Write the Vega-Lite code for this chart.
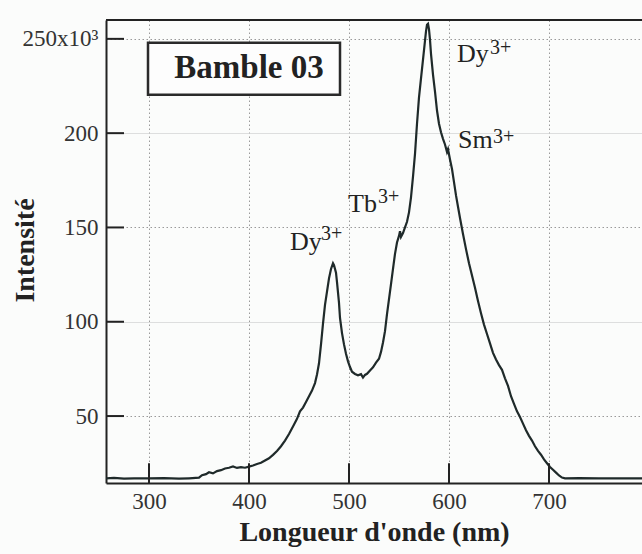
{
  "$schema": "https://vega.github.io/schema/vega-lite/v6.json",
  "width": 536,
  "height": 463,
  "autosize": {"type": "none"},
  "padding": {"left": 106, "top": 20, "right": 0, "bottom": 71},
  "background": "#fbfcfb",
  "config": {
    "view": {"stroke": null},
    "font": "Liberation Serif"
  },
  "layer": [
    {
      "data": {
        "values": [
          {"nm": 257, "v": 17}, {"nm": 265, "v": 17.2}, {"nm": 275, "v": 16.8}, {"nm": 285, "v": 17}, {"nm": 300, "v": 17},
          {"nm": 315, "v": 17.1}, {"nm": 330, "v": 16.8}, {"nm": 340, "v": 17}, {"nm": 350, "v": 17.3}, {"nm": 353, "v": 18.6},
          {"nm": 357, "v": 19.2}, {"nm": 360, "v": 20.2}, {"nm": 364, "v": 19.6}, {"nm": 368, "v": 20.8}, {"nm": 372, "v": 21.3},
          {"nm": 376, "v": 22.2}, {"nm": 380, "v": 22.6}, {"nm": 384, "v": 23.3}, {"nm": 388, "v": 22.5}, {"nm": 392, "v": 22.9},
          {"nm": 396, "v": 22.6}, {"nm": 400, "v": 23.2}, {"nm": 404, "v": 23.8}, {"nm": 408, "v": 24.6}, {"nm": 412, "v": 25.2},
          {"nm": 416, "v": 26.4}, {"nm": 420, "v": 27.6}, {"nm": 424, "v": 29.4}, {"nm": 428, "v": 31.5}, {"nm": 432, "v": 34},
          {"nm": 436, "v": 37}, {"nm": 440, "v": 40.5}, {"nm": 444, "v": 44.5}, {"nm": 448, "v": 48.5}, {"nm": 451, "v": 52.5},
          {"nm": 454, "v": 54.5}, {"nm": 457, "v": 57.5}, {"nm": 460, "v": 60.5}, {"nm": 463, "v": 63.5}, {"nm": 466, "v": 67.5},
          {"nm": 468, "v": 72}, {"nm": 470, "v": 78}, {"nm": 472, "v": 88}, {"nm": 474, "v": 99}, {"nm": 476, "v": 109},
          {"nm": 478, "v": 116}, {"nm": 480, "v": 123}, {"nm": 482, "v": 128}, {"nm": 484, "v": 131}, {"nm": 485, "v": 130},
          {"nm": 487, "v": 126}, {"nm": 488, "v": 121}, {"nm": 490, "v": 110}, {"nm": 491, "v": 102}, {"nm": 493, "v": 94},
          {"nm": 495, "v": 88}, {"nm": 497, "v": 83}, {"nm": 499, "v": 79}, {"nm": 501, "v": 76}, {"nm": 503, "v": 73.5},
          {"nm": 506, "v": 72.3}, {"nm": 509, "v": 71.6}, {"nm": 512, "v": 72.2}, {"nm": 514, "v": 70.4}, {"nm": 516, "v": 71.8},
          {"nm": 518, "v": 72.4}, {"nm": 521, "v": 74.2}, {"nm": 524, "v": 75.8}, {"nm": 527, "v": 78.3}, {"nm": 530, "v": 80.4},
          {"nm": 532, "v": 84}, {"nm": 534, "v": 89}, {"nm": 536, "v": 95}, {"nm": 538, "v": 104}, {"nm": 540, "v": 112},
          {"nm": 542, "v": 120}, {"nm": 544, "v": 128}, {"nm": 546, "v": 136}, {"nm": 548, "v": 142}, {"nm": 550, "v": 145.5},
          {"nm": 551, "v": 148}, {"nm": 552, "v": 145}, {"nm": 554, "v": 147}, {"nm": 556, "v": 150}, {"nm": 558, "v": 153},
          {"nm": 560, "v": 158}, {"nm": 562, "v": 166}, {"nm": 564, "v": 177}, {"nm": 566, "v": 189}, {"nm": 568, "v": 205},
          {"nm": 570, "v": 219}, {"nm": 572, "v": 229}, {"nm": 574, "v": 239}, {"nm": 576, "v": 249}, {"nm": 577, "v": 254},
          {"nm": 578, "v": 257.5}, {"nm": 579, "v": 258}, {"nm": 580, "v": 255}, {"nm": 581, "v": 249.5}, {"nm": 582, "v": 242},
          {"nm": 584, "v": 231}, {"nm": 586, "v": 222}, {"nm": 588, "v": 212}, {"nm": 590, "v": 205}, {"nm": 592, "v": 200.5},
          {"nm": 594, "v": 197}, {"nm": 596, "v": 194}, {"nm": 598, "v": 190}, {"nm": 599, "v": 191.5}, {"nm": 601, "v": 186},
          {"nm": 603, "v": 181}, {"nm": 605, "v": 174}, {"nm": 607, "v": 167}, {"nm": 609, "v": 161}, {"nm": 611, "v": 155},
          {"nm": 614, "v": 146.5}, {"nm": 617, "v": 138.5}, {"nm": 620, "v": 131}, {"nm": 623, "v": 124.5}, {"nm": 626, "v": 118},
          {"nm": 629, "v": 111}, {"nm": 632, "v": 104.5}, {"nm": 635, "v": 98.5}, {"nm": 638, "v": 93.5}, {"nm": 641, "v": 88.5},
          {"nm": 644, "v": 83.5}, {"nm": 647, "v": 80}, {"nm": 650, "v": 77}, {"nm": 653, "v": 74.5}, {"nm": 656, "v": 70},
          {"nm": 659, "v": 66}, {"nm": 662, "v": 60.5}, {"nm": 665, "v": 56.5}, {"nm": 668, "v": 52.5}, {"nm": 671, "v": 49.5},
          {"nm": 674, "v": 46}, {"nm": 677, "v": 42.5}, {"nm": 680, "v": 39.5}, {"nm": 683, "v": 37}, {"nm": 686, "v": 34},
          {"nm": 689, "v": 31.5}, {"nm": 692, "v": 29.5}, {"nm": 695, "v": 27}, {"nm": 698, "v": 25}, {"nm": 701, "v": 23},
          {"nm": 704, "v": 21.5}, {"nm": 707, "v": 20}, {"nm": 710, "v": 18.5}, {"nm": 713, "v": 17.4}, {"nm": 716, "v": 17},
          {"nm": 730, "v": 17.1}, {"nm": 750, "v": 17}, {"nm": 770, "v": 17}, {"nm": 793, "v": 17}
        ]
      },
      "mark": {"type": "line", "color": "#1f2a2a", "strokeWidth": 2.2, "clip": true},
      "encoding": {
        "x": {
          "field": "nm", "type": "quantitative",
          "scale": {"domain": [257, 793], "nice": false, "zero": false},
          "axis": {
            "orient": "bottom", "title": "Longueur d'onde (nm)", "values": [300, 400, 500, 600, 700],
            "ticks": false, "domainColor": "#222", "domainWidth": 2,
            "labelFontSize": 23, "labelColor": "#333", "labelPadding": 7, "labelFlush": false, "labelOverlap": false,
            "titleFontSize": 28, "titleFontWeight": "bold", "titleColor": "#222", "titleBaseline": "alphabetic",
            "titleX": 268, "titleY": 57,
            "grid": true, "gridColor": "#9a9a9a", "gridDash": [1.5, 2.5], "gridWidth": 1
          }
        },
        "y": {
          "field": "v", "type": "quantitative",
          "scale": {"domain": [14.5, 260], "nice": false, "zero": false},
          "axis": {
            "orient": "left", "title": "Intensité", "values": [50, 100, 150, 200, 250],
            "labelExpr": "datum.value == 250 ? '250x10³' : datum.label",
            "ticks": false, "domainColor": "#222", "domainWidth": 2,
            "labelFontSize": 23, "labelColor": "#333", "labelPadding": 8, "labelFlush": false, "labelOverlap": false,
            "titleFontSize": 28, "titleFontWeight": "bold", "titleColor": "#222", "titleBaseline": "alphabetic",
            "titleX": -73, "titleY": 230,
            "grid": true,
            "gridColor": {"condition": {"test": "datum.value % 100 === 0", "value": "#d2d4d4"}, "value": "#9a9a9a"},
            "gridDash": {"condition": {"test": "datum.value % 100 === 0", "value": [1, 0]}, "value": [1.5, 2.5]},
            "gridWidth": 1
          }
        }
      }
    },
    {
      "data": {"values": [{"v": 260}]},
      "mark": {"type": "rule", "color": "#222", "strokeWidth": 2},
      "encoding": {
        "y": {"field": "v", "type": "quantitative"}
      }
    },
    {
      "data": {"values": [
        {"nm": 300, "v": 14.5, "v2": 25},
        {"nm": 400, "v": 14.5, "v2": 25},
        {"nm": 500, "v": 14.5, "v2": 25},
        {"nm": 600, "v": 14.5, "v2": 25},
        {"nm": 700, "v": 14.5, "v2": 25}
      ]},
      "mark": {"type": "rule", "color": "#222", "strokeWidth": 2},
      "encoding": {
        "x": {"field": "nm", "type": "quantitative"},
        "y": {"field": "v", "type": "quantitative"},
        "y2": {"field": "v2"}
      }
    },
    {
      "data": {"values": [
        {"nm": 257, "nm2": 275, "v": 50},
        {"nm": 257, "nm2": 275, "v": 100},
        {"nm": 257, "nm2": 275, "v": 150},
        {"nm": 257, "nm2": 275, "v": 200},
        {"nm": 257, "nm2": 275, "v": 250}
      ]},
      "mark": {"type": "rule", "color": "#222", "strokeWidth": 2},
      "encoding": {
        "x": {"field": "nm", "type": "quantitative"},
        "x2": {"field": "nm2"},
        "y": {"field": "v", "type": "quantitative"}
      }
    },
    {
      "data": {"values": [{"nm": 299, "nm2": 491, "v": 220.3, "v2": 247.9}]},
      "mark": {"type": "rect", "fill": "#fdfdfd", "stroke": "#2a2a2a", "strokeWidth": 2.5},
      "encoding": {
        "x": {"field": "nm", "type": "quantitative"},
        "x2": {"field": "nm2"},
        "y": {"field": "v", "type": "quantitative"},
        "y2": {"field": "v2"}
      }
    },
    {
      "data": {"values": [{"nm": 400, "v": 229.5, "t": "Bamble 03"}]},
      "mark": {"type": "text", "font": "Liberation Serif", "fontSize": 33, "fontWeight": "bold", "color": "#222", "align": "center", "baseline": "alphabetic"},
      "encoding": {
        "x": {"field": "nm", "type": "quantitative"},
        "y": {"field": "v", "type": "quantitative"},
        "text": {"field": "t"}
      }
    },
    {
      "data": {
        "values": [
          {"nm": 441, "v": 138, "t": "Dy"},
          {"nm": 499, "v": 158.2, "t": "Tb"},
          {"nm": 608, "v": 237.8, "t": "Dy"},
          {"nm": 609, "v": 192.2, "t": "Sm"}
        ]
      },
      "mark": {"type": "text", "font": "Liberation Serif", "fontSize": 26, "color": "#222", "align": "left", "baseline": "alphabetic"},
      "encoding": {
        "x": {"field": "nm", "type": "quantitative"},
        "y": {"field": "v", "type": "quantitative"},
        "text": {"field": "t"}
      }
    },
    {
      "data": {
        "values": [
          {"nm": 472, "v": 143.4, "t": "3+"},
          {"nm": 529, "v": 163, "t": "3+"},
          {"nm": 641, "v": 242, "t": "3+"},
          {"nm": 644, "v": 194.8, "t": "3+"}
        ]
      },
      "mark": {"type": "text", "font": "Liberation Serif", "fontSize": 20, "color": "#222", "align": "left", "baseline": "alphabetic"},
      "encoding": {
        "x": {"field": "nm", "type": "quantitative"},
        "y": {"field": "v", "type": "quantitative"},
        "text": {"field": "t"}
      }
    }
  ]
}
